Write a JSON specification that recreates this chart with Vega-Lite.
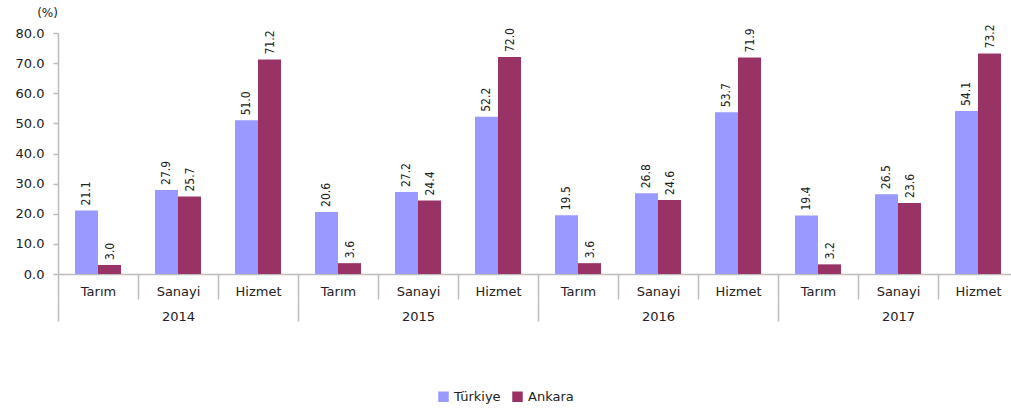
{
  "$schema": "https://vega.github.io/schema/vega-lite/v6.json",
  "width": 953,
  "height": 241,
  "autosize": {"type": "none"},
  "padding": {"left": 58, "top": 33, "right": 0, "bottom": 136},
  "background": "white",
  "config": {
    "view": {"stroke": null},
    "font": "DejaVu Sans",
    "axis": {"labelFont": "DejaVu Sans", "labelFontSize": 13, "labelColor": "#222", "domainColor": "#bcbcbc", "tickColor": "#bcbcbc", "domainWidth": 1.5, "tickWidth": 1.5, "grid": false}
  },
  "datasets": {
    "main": [
      {"cat": "2014 Tarım", "series": "Türkiye", "value": 21.1},
      {"cat": "2014 Tarım", "series": "Ankara", "value": 3.0},
      {"cat": "2014 Sanayi", "series": "Türkiye", "value": 27.9},
      {"cat": "2014 Sanayi", "series": "Ankara", "value": 25.7},
      {"cat": "2014 Hizmet", "series": "Türkiye", "value": 51.0},
      {"cat": "2014 Hizmet", "series": "Ankara", "value": 71.2},
      {"cat": "2015 Tarım", "series": "Türkiye", "value": 20.6},
      {"cat": "2015 Tarım", "series": "Ankara", "value": 3.6},
      {"cat": "2015 Sanayi", "series": "Türkiye", "value": 27.2},
      {"cat": "2015 Sanayi", "series": "Ankara", "value": 24.4},
      {"cat": "2015 Hizmet", "series": "Türkiye", "value": 52.2},
      {"cat": "2015 Hizmet", "series": "Ankara", "value": 72.0},
      {"cat": "2016 Tarım", "series": "Türkiye", "value": 19.5},
      {"cat": "2016 Tarım", "series": "Ankara", "value": 3.6},
      {"cat": "2016 Sanayi", "series": "Türkiye", "value": 26.8},
      {"cat": "2016 Sanayi", "series": "Ankara", "value": 24.6},
      {"cat": "2016 Hizmet", "series": "Türkiye", "value": 53.7},
      {"cat": "2016 Hizmet", "series": "Ankara", "value": 71.9},
      {"cat": "2017 Tarım", "series": "Türkiye", "value": 19.4},
      {"cat": "2017 Tarım", "series": "Ankara", "value": 3.2},
      {"cat": "2017 Sanayi", "series": "Türkiye", "value": 26.5},
      {"cat": "2017 Sanayi", "series": "Ankara", "value": 23.6},
      {"cat": "2017 Hizmet", "series": "Türkiye", "value": 54.1},
      {"cat": "2017 Hizmet", "series": "Ankara", "value": 73.2}
    ],
    "cats": [
      {"cat": "2014 Tarım"}, {"cat": "2014 Sanayi"}, {"cat": "2014 Hizmet"},
      {"cat": "2015 Tarım"}, {"cat": "2015 Sanayi"}, {"cat": "2015 Hizmet"},
      {"cat": "2016 Tarım"}, {"cat": "2016 Sanayi"}, {"cat": "2016 Hizmet"},
      {"cat": "2017 Tarım"}, {"cat": "2017 Sanayi"}, {"cat": "2017 Hizmet"}
    ],
    "years": [
      {"year": "2014"}, {"year": "2015"}, {"year": "2016"}, {"year": "2017"}
    ]
  },
  "layer": [
    {
      "data": {"name": "main"},
      "encoding": {
        "x": {
          "field": "cat", "type": "nominal", "sort": null,
          "scale": {"range": [0, 960], "paddingInner": 0, "paddingOuter": 0},
          "axis": null
        },
        "xOffset": {
          "field": "series", "type": "nominal", "sort": ["Türkiye", "Ankara"],
          "scale": {"paddingInner": 0, "paddingOuter": 0.739}
        },
        "y": {
          "field": "value", "type": "quantitative",
          "scale": {"domain": [0, 80], "nice": false},
          "axis": {
            "values": [0, 10, 20, 30, 40, 50, 60, 70, 80], "format": ".1f",
            "tickSize": 5, "labelPadding": 9,
            "title": "(%)", "titleAngle": 0, "titleX": -11, "titleY": -21,
            "titleAlign": "center", "titleBaseline": "middle",
            "titleFont": "DejaVu Sans", "titleFontSize": 12, "titleFontWeight": "normal", "titleColor": "#222"
          }
        }
      },
      "layer": [
        {
          "mark": {"type": "bar"},
          "encoding": {
            "color": {
              "field": "series", "type": "nominal",
              "scale": {"domain": ["Türkiye", "Ankara"], "range": ["#9999FF", "#993366"]},
              "legend": {
                "title": null, "orient": "none", "legendX": 379, "legendY": 357,
                "direction": "horizontal", "symbolType": "square", "symbolSize": 110,
                "symbolStrokeWidth": 0, "labelFont": "DejaVu Sans", "labelFontSize": 13,
                "labelColor": "#222", "columnPadding": 10, "labelOffset": 4
              }
            }
          }
        },
        {
          "mark": {"type": "text", "angle": -90, "align": "left", "baseline": "middle", "dx": 5, "font": "DejaVu Sans Condensed, Liberation Sans, sans-serif", "fontSize": 12, "color": "#222"},
          "encoding": {
            "text": {"field": "value", "type": "quantitative", "format": ".1f"}
          }
        }
      ]
    },
    {
      "data": {"name": "cats"},
      "mark": {"type": "text", "text": ""},
      "encoding": {
        "x": {
          "field": "cat", "type": "nominal", "sort": null,
          "scale": {"range": [0, 960], "paddingInner": 0, "paddingOuter": 0},
          "axis": {
            "title": null, "orient": "bottom", "labelAngle": 0,
            "labelExpr": "split(datum.label, ' ')[1]",
            "ticks": true, "tickBand": "extent", "tickSize": 25,
            "labelBaseline": "middle", "labelPadding": -8, "labelOverlap": false
          }
        }
      }
    },
    {
      "data": {"name": "years"},
      "mark": {"type": "text", "text": ""},
      "encoding": {
        "x": {
          "field": "year", "type": "nominal", "sort": null,
          "scale": {"range": [0, 960], "paddingInner": 0, "paddingOuter": 0},
          "axis": {
            "title": null, "orient": "bottom", "offset": 25, "domain": false, "labelAngle": 0,
            "ticks": true, "tickBand": "extent", "tickSize": 22,
            "labelBaseline": "middle", "labelPadding": -5, "labelOverlap": false
          }
        }
      }
    }
  ],
  "resolve": {"scale": {"x": "independent"}, "axis": {"x": "independent"}}
}
